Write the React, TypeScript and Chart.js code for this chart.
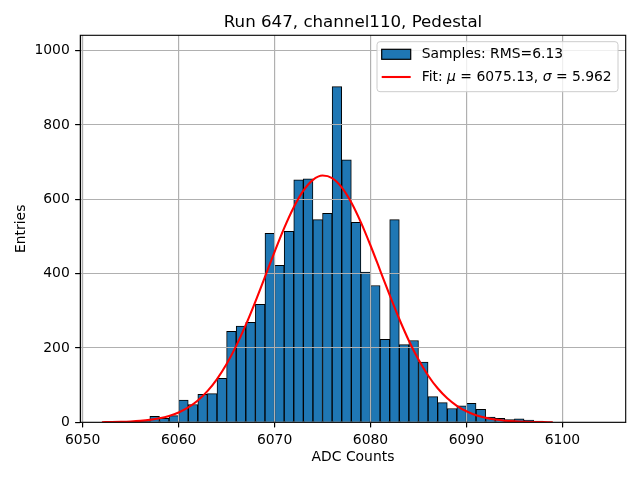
import React, { useEffect, useRef } from "react";
import { Chart, registerables } from "chart.js";

Chart.register(...registerables);

// ---- data ----
const binLefts = [
  6052, 6053, 6054, 6055, 6056, 6057, 6058, 6059, 6060, 6061, 6062, 6063, 6064,
  6065, 6066, 6067, 6068, 6069, 6070, 6071, 6072, 6073, 6074, 6075, 6076, 6077,
  6078, 6079, 6080, 6081, 6082, 6083, 6084, 6085, 6086, 6087, 6088, 6089, 6090,
  6091, 6092, 6093, 6094, 6095, 6096, 6097, 6098, 6099, 6100, 6101, 6102, 6103,
];
const binWidth = 1;
const counts = [
  0, 1, 1, 2, 3, 16, 11, 18, 60, 48, 75, 77, 118,
  245, 259, 269, 317, 508, 422, 514, 652, 655, 545, 562, 903, 706,
  538, 404, 368, 223, 545, 209, 220, 162, 69, 53, 37, 44, 51,
  35, 14, 11, 7, 9, 6, 3, 1, 0, 0, 0, 0, 0,
];
const fitX = [
  6052, 6053, 6054, 6055, 6056, 6057, 6058, 6059, 6060, 6061, 6062, 6063, 6064,
  6065, 6066, 6067, 6068, 6069, 6070, 6071, 6072, 6073, 6074, 6075, 6076, 6077,
  6078, 6079, 6080, 6081, 6082, 6083, 6084, 6085, 6086, 6087, 6088, 6089, 6090,
  6091, 6092, 6093, 6094, 6095, 6096, 6097, 6098, 6099,
];
const fitY = [
  0.36, 0.68, 1.24, 2.22, 3.86, 6.51, 10.7, 17.1, 26.5, 40.0, 58.8, 83.8, 116.2,
  156.8, 205.6, 262.0, 324.8, 391.4, 458.6, 522.4, 578.5, 623.0, 652.2, 663.8, 657.0, 632.1,
  591.4, 537.8, 475.6, 409.0, 341.9, 277.8, 219.5, 168.7, 126.0, 91.5, 64.6, 44.4, 29.6,
  19.2, 12.1, 7.4, 4.4, 2.6, 1.45, 0.79, 0.42, 0.22,
];
const xRange = [6049.75, 6106.6];
const yRange = [0, 1041];
const xTickStep = 10;
const yTickStep = 200;

const titleText = "Run 647, channel110, Pedestal";
const xLabel = "ADC Counts";
const yLabel = "Entries";
const sampleLabel = "Samples: RMS=6.13";
const fitLabelParts: { t: string; it: boolean }[] = [
  { t: "Fit: ", it: false },
  { t: "\u03bc", it: true },
  { t: " = 6075.13, ", it: false },
  { t: "\u03c3", it: true },
  { t: " = 5.962", it: false },
];

const FONT = '"DejaVu Sans", "Liberation Sans", sans-serif';
const BAR_COLOR = "#1f77b4";
const FIT_COLOR = "#ff0000";

const gridOverBars = {
  id: "gridOverBars",
  afterDatasetDraw(chart: any, args: any) {
    if (args.meta.type !== "bar") return;
    const ca = chart.chartArea;
    chart.scales.x.drawGrid(ca);
    chart.scales.y.drawGrid(ca);
  },
};

const frameTitleLegend = {
  id: "frameTitleLegend",
  afterDraw(chart: any) {
    const ctx: CanvasRenderingContext2D = chart.ctx;
    const { left, top, right, bottom } = chart.chartArea;
    ctx.save();
    // frame (spines)
    ctx.strokeStyle = "#000";
    ctx.lineWidth = 1.1;
    ctx.strokeRect(left, top, right - left, bottom - top);

    // title
    ctx.fillStyle = "#000";
    ctx.font = `16.67px ${FONT}`;
    ctx.textAlign = "center";
    ctx.textBaseline = "alphabetic";
    ctx.fillText(titleText, (left + right) / 2, top - 8.3);

    // legend
    const fs = 13.9;
    const normal = `${fs}px ${FONT}`;
    const italic = `italic ${fs}px ${FONT}`;
    ctx.font = normal;
    const w1 = ctx.measureText(sampleLabel).width;
    let w2 = 0;
    for (const p of fitLabelParts) {
      ctx.font = p.it ? italic : normal;
      w2 += ctx.measureText(p.t).width;
    }
    const textW = Math.max(w1, w2);
    const boxRight = right - 7.7;
    const boxTop = top + 6.4;
    const boxH = 50;
    const textStart = boxRight - 6.3 - textW;
    const handleRight = textStart - 11;
    const handleLeft = handleRight - 29;
    const boxLeft = handleLeft - 4.7;

    // box
    const r = 3;
    ctx.beginPath();
    ctx.moveTo(boxLeft + r, boxTop);
    ctx.lineTo(boxRight - r, boxTop);
    ctx.quadraticCurveTo(boxRight, boxTop, boxRight, boxTop + r);
    ctx.lineTo(boxRight, boxTop + boxH - r);
    ctx.quadraticCurveTo(boxRight, boxTop + boxH, boxRight - r, boxTop + boxH);
    ctx.lineTo(boxLeft + r, boxTop + boxH);
    ctx.quadraticCurveTo(boxLeft, boxTop + boxH, boxLeft, boxTop + boxH - r);
    ctx.lineTo(boxLeft, boxTop + r);
    ctx.quadraticCurveTo(boxLeft, boxTop, boxLeft + r, boxTop);
    ctx.closePath();
    ctx.fillStyle = "rgba(255,255,255,0.8)";
    ctx.fill();
    ctx.strokeStyle = "#cccccc";
    ctx.lineWidth = 1;
    ctx.stroke();

    // row 1: patch
    const y1 = boxTop + 12.6;
    ctx.fillStyle = BAR_COLOR;
    ctx.fillRect(handleLeft, y1 - 5, 29, 10);
    ctx.strokeStyle = "#000";
    ctx.lineWidth = 1.2;
    ctx.strokeRect(handleLeft, y1 - 5, 29, 10);
    ctx.fillStyle = "#000";
    ctx.textAlign = "left";
    ctx.textBaseline = "middle";
    ctx.font = normal;
    ctx.fillText(sampleLabel, textStart, y1 + 0.5);

    // row 2: line
    const y2 = boxTop + 35.3;
    ctx.strokeStyle = FIT_COLOR;
    ctx.lineWidth = 2.08;
    ctx.beginPath();
    ctx.moveTo(handleLeft, y2);
    ctx.lineTo(handleRight, y2);
    ctx.stroke();
    let x = textStart;
    ctx.fillStyle = "#000";
    for (const p of fitLabelParts) {
      ctx.font = p.it ? italic : normal;
      ctx.fillText(p.t, x, y2 + 0.5);
      x += ctx.measureText(p.t).width;
    }
    ctx.restore();
  },
};

export default function App() {
  const ref = useRef<HTMLCanvasElement>(null);
  useEffect(() => {
    document.body.style.margin = "0";
    const barData = binLefts.map((b, i) => ({ x: b + binWidth / 2, y: counts[i] }));
    const fitData = fitX.map((x, i) => ({ x, y: fitY[i] }));
    const tickFont = { family: FONT, size: 13.9 };
    const chart = new Chart(ref.current as HTMLCanvasElement, {
      type: "bar",
      data: {
        datasets: [
          {
            type: "bar",
            label: sampleLabel,
            data: barData as any,
            backgroundColor: BAR_COLOR,
            borderColor: "#000",
            borderWidth: 1,
            barPercentage: 1,
            categoryPercentage: 1,
            grouped: false,
            order: 1,
          } as any,
          {
            type: "line",
            label: "Fit",
            data: fitData as any,
            borderColor: FIT_COLOR,
            borderWidth: 2.08,
            pointRadius: 0,
            cubicInterpolationMode: "monotone",
            fill: false,
            order: 0,
          } as any,
        ],
      },
      options: {
        animation: false,
        responsive: false,
        devicePixelRatio: 1,
        layout: { padding: { left: 0, right: 14.3, top: 35.3, bottom: 0 } },
        plugins: {
          legend: { display: false },
          title: { display: false },
          tooltip: { enabled: false },
        },
        scales: {
          x: {
            type: "linear",
            min: xRange[0],
            max: xRange[1],
            offset: false,
            grid: {
              color: "#b0b0b0",
              lineWidth: 1.1,
              tickColor: "#000",
              tickLength: 5,
              tickWidth: 1.1,
              offset: false,
            },
            border: { color: "#000", width: 1.1 },
            ticks: {
              stepSize: xTickStep,
              includeBounds: false,
              autoSkip: false,
              maxRotation: 0,
              color: "#000",
              font: tickFont,
              padding: 4.7,
              callback: (v: any) => String(v),
            },
            title: {
              display: true,
              text: xLabel,
              color: "#000",
              font: tickFont,
              padding: { top: 0, bottom: 14.2 },
            },
            afterFit: (s: any) => {
              s.height = 57.7;
            },
          },
          y: {
            type: "linear",
            min: yRange[0],
            max: yRange[1],
            grid: {
              color: "#b0b0b0",
              lineWidth: 1.1,
              tickColor: "#000",
              tickLength: 5,
              tickWidth: 1.1,
            },
            border: { color: "#000", width: 1.1 },
            ticks: {
              stepSize: yTickStep,
              includeBounds: false,
              color: "#000",
              font: tickFont,
              padding: 5.5,
              callback: (v: any) => String(v),
            },
            title: {
              display: true,
              text: yLabel,
              color: "#000",
              font: tickFont,
              padding: { top: 13.5, bottom: 0 },
            },
            afterFit: (s: any) => {
              s.width = 80.3;
            },
          },
        },
      } as any,
      plugins: [gridOverBars, frameTitleLegend],
    });
    return () => chart.destroy();
  }, []);
  return (
    <div style={{ width: 640, height: 480, background: "#fff" }}>
      <canvas ref={ref} width={640} height={480} style={{ display: "block" }} />
    </div>
  );
}
